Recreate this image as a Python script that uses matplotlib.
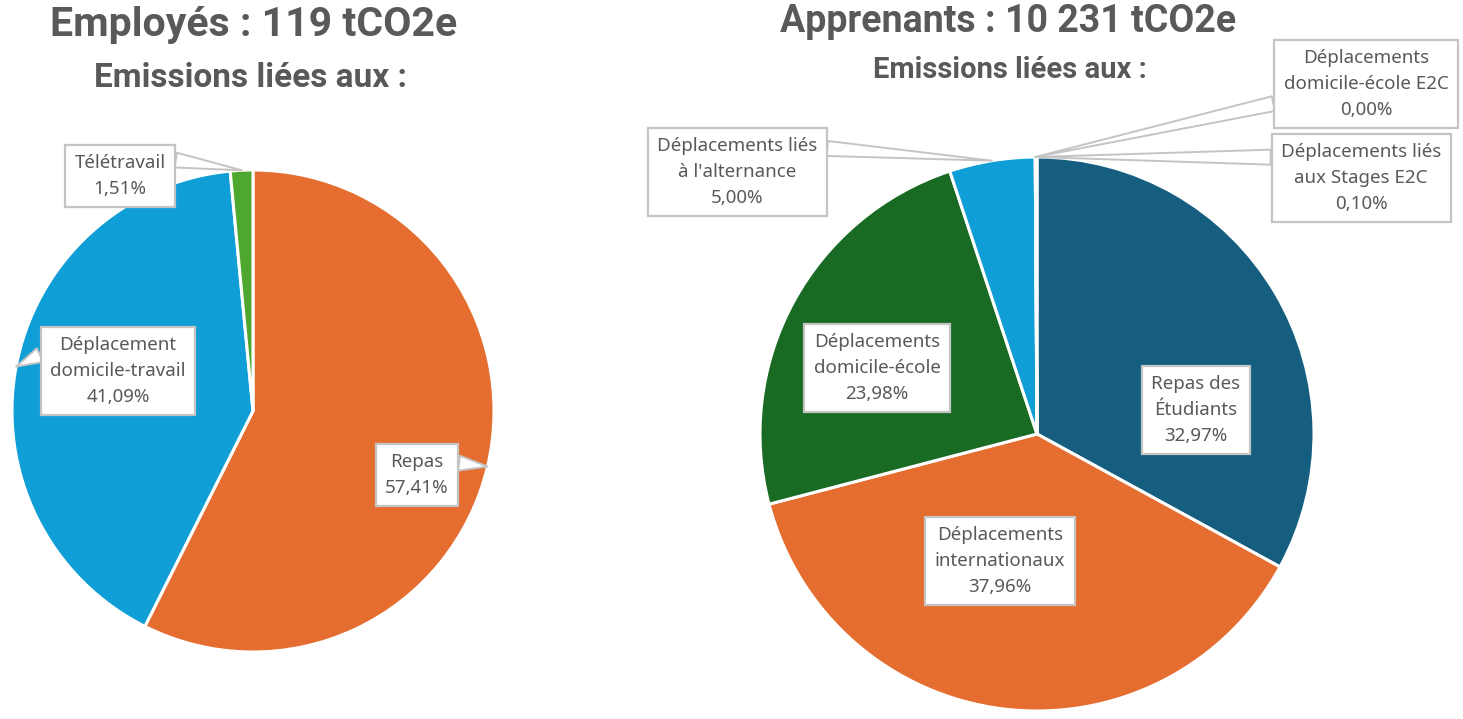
import matplotlib
matplotlib.use("Agg")
import numpy as np
import matplotlib.pyplot as plt

# DATA
emp_labels = ["Repas", "Déplacement\ndomicile-travail", "Télétravail"]
emp_values = [57.41, 41.09, 1.51]
emp_colors = ["#E56D30", "#0F9ED5", "#4EA72E"]

app_labels = ["Repas des\nÉtudiants", "Déplacements\ninternationaux",
              "Déplacements\ndomicile-école", "Déplacements liés\nà l'alternance",
              "Déplacements\ndomicile-école E2C", "Déplacements liés\naux Stages E2C"]
app_values = [32.97, 37.96, 23.98, 5.00, 0.00, 0.10]
app_colors = ["#165E80", "#E56D30", "#196B24", "#0F9ED5", "#A02B93", "#4EA72E"]

emp_title = "Employés : 119 tCO2e"
app_title = "Apprenants : 10 231 tCO2e"
subtitle = "Emissions liées aux :"

# LAYOUT (pixel coordinates, y measured from top)
W, H = 1463, 719
GRAY = "#595959"
EDGE = "#C4C4C4"

emp_center, emp_r = (253, 411), 241
app_center, app_r = (1037, 434), 277

# label box centre, callout or not, relpos of callout start
emp_layout = [((417, 475), True, (1.0, 0.8)),
              ((118, 371), True, (0.0, 0.8)),
              ((120, 176), True, (1.0, 0.9))]
app_layout = [((1196, 410), False, None),
              ((1000, 561), False, None),
              ((877, 368), False, None),
              ((737, 172), True, (1.0, 0.85)),
              ((1366, 84), True, (0.0, 0.25)),
              ((1361, 178), True, (0.0, 0.8))]

TITLE_FONT = ["Roboto", "DejaVu Sans"]
LABEL_FONT = ["Noto Sans", "DejaVu Sans"]
LABEL_SIZE = 13.5


def fmt_pct(v):
    return f"{v:.2f}%".replace(".", ",")


def draw_pie(ax, values, labels, colors, center, r, layout):
    cx, cy = center
    wedges, _ = ax.pie(values, colors=colors, startangle=90, counterclock=False,
                       center=(cx, H - cy), radius=r,
                       wedgeprops=dict(edgecolor="white", linewidth=2.2))
    box = dict(boxstyle="square,pad=0.5", fc="white", ec=EDGE, lw=1.6)
    for w, lab, v, (pos, callout, rel) in zip(wedges, labels, values, layout):
        txt = f"{lab}\n{fmt_pct(v)}"
        xytext = (pos[0], H - pos[1])
        if callout:
            # callout tip sits on the rim, at the middle of the slice
            mid = np.deg2rad((w.theta1 + w.theta2) / 2)
            tip = (cx + r * np.cos(mid), H - cy + r * np.sin(mid))
            ax.annotate(txt, xy=tip, xytext=xytext, ha="center", va="center",
                        fontsize=LABEL_SIZE, color=GRAY, family=LABEL_FONT,
                        linespacing=1.55, bbox=box, zorder=5,
                        arrowprops=dict(arrowstyle="wedge,tail_width=0.8",
                                        fc="white", ec=EDGE, lw=1.4,
                                        shrinkA=0, shrinkB=0, relpos=rel))
        else:
            ax.text(xytext[0], xytext[1], txt, ha="center", va="center",
                    fontsize=LABEL_SIZE, color=GRAY, family=LABEL_FONT,
                    linespacing=1.55, bbox=box, zorder=5)


fig = plt.figure(figsize=(W / 100, H / 100), dpi=100)
ax = fig.add_axes([0, 0, 1, 1])

draw_pie(ax, emp_values, emp_labels, emp_colors, emp_center, emp_r, emp_layout)
draw_pie(ax, app_values, app_labels, app_colors, app_center, app_r, app_layout)

ax.set_xlim(0, W)
ax.set_ylim(0, H)
ax.set_aspect("equal")
ax.axis("off")

# titles
ax.text(254, H - 25, emp_title, ha="center", va="center", fontsize=29.5,
        fontweight="bold", color=GRAY, family=TITLE_FONT)
ax.text(250, H - 78, subtitle, ha="center", va="center", fontsize=24,
        fontweight="bold", color=GRAY, family=TITLE_FONT)
ax.text(1008, H - 22, app_title, ha="center", va="center", fontsize=27,
        fontweight="bold", color=GRAY, family=TITLE_FONT)
ax.text(1010, H - 70, subtitle, ha="center", va="center", fontsize=21,
        fontweight="bold", color=GRAY, family=TITLE_FONT)

fig.savefig("out.png", dpi=100, facecolor="white")
